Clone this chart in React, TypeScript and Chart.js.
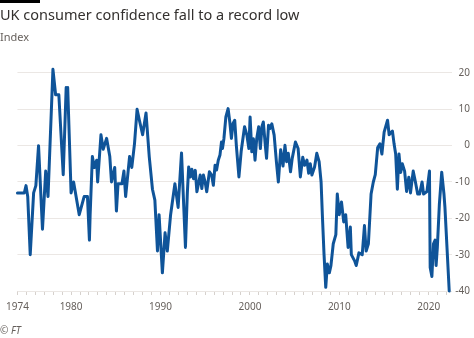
import React, { useEffect, useRef } from 'react';
import { Chart, registerables } from 'chart.js';

Chart.register(...registerables);

const title = 'UK consumer confidence fall to a record low';
const subtitle = 'Index';
const source = '© FT';

const years = [
  1974.0, 1974.77, 1974.96, 1975.15, 1975.43, 1975.81, 1976.06, 1976.36, 1976.8, 1977.16,
  1977.42, 1977.97, 1978.27, 1978.63, 1979.12, 1979.45, 1979.56, 1979.62, 1980.0, 1980.28,
  1980.91, 1981.46, 1981.83, 1982.05, 1982.13, 1982.38, 1982.6, 1982.86, 1982.97, 1983.34,
  1983.59, 1983.97, 1984.33, 1984.52, 1984.88, 1985.07, 1985.25, 1985.69, 1985.91, 1986.1,
  1986.54, 1986.79, 1987.09, 1987.38, 1987.64, 1988.0, 1988.38, 1988.74, 1989.1, 1989.37,
  1989.66, 1989.84, 1990.21, 1990.51, 1990.76, 1991.13, 1991.61, 1991.97, 1992.35, 1992.79,
  1993.0, 1993.15, 1993.34, 1993.51, 1993.7, 1993.89, 1994.07, 1994.44, 1994.62, 1994.8,
  1994.99, 1995.17, 1995.47, 1995.72, 1995.91, 1996.1, 1996.27, 1996.46, 1996.65, 1996.82,
  1996.93, 1997.09, 1997.31, 1997.56, 1997.75, 1997.93, 1998.11, 1998.3, 1998.48, 1998.77,
  1999.03, 1999.4, 1999.66, 1999.88, 2000.02, 2000.21, 2000.39, 2000.57, 2000.76, 2000.98,
  2001.17, 2001.34, 2001.5, 2001.72, 2001.86, 2002.08, 2002.23, 2002.45, 2002.71, 2002.96,
  2003.18, 2003.44, 2003.7, 2003.92, 2004.1, 2004.29, 2004.54, 2004.73, 2005.09, 2005.39,
  2005.64, 2005.91, 2006.13, 2006.38, 2006.57, 2006.75, 2006.93, 2007.23, 2007.48, 2007.74,
  2007.96, 2008.1, 2008.29, 2008.48, 2008.66, 2008.88, 2009.06, 2009.32, 2009.61, 2009.77,
  2009.99, 2010.24, 2010.49, 2010.71, 2010.98, 2011.23, 2011.34, 2011.71, 2011.89, 2012.19,
  2012.56, 2012.81, 2013.0, 2013.25, 2013.55, 2013.8, 2014.02, 2014.29, 2014.54, 2014.76,
  2015.01, 2015.39, 2015.57, 2015.94, 2016.12, 2016.3, 2016.49, 2016.67, 2016.86, 2017.04,
  2017.3, 2017.52, 2017.77, 2017.96, 2018.26, 2018.51, 2018.76, 2018.98, 2019.25, 2019.42,
  2019.8, 2020.08, 2020.16, 2020.35, 2020.53, 2020.71, 2020.82, 2020.96, 2021.19, 2021.45,
  2021.7, 2021.81, 2022.29,
];

const confidence = [
  -13, -13, -11, -14, -30, -13, -11, 0, -23, -7,
  -14, 21, 14, 14, -8, 16, 11, 16, -13, -10,
  -19, -14, -14, -26, -19, -3, -6, -4, -10, 3,
  -1, 2, -3, -10, -6, -18, -10.5, -10.5, -7, -14,
  -3, -6, 0.5, 10, 7, 3, 9, -3, -12, -15,
  -29, -19, -35, -24, -29, -19, -10.5, -17, -2, -28,
  -13, -5.9, -8.6, -6.5, -9.1, -6.8, -12.7, -8.1, -11.8, -8.1,
  -10, -12.7, -7.2, -8.1, -10.9, -5.4, -6.7, -4, -2.6, 1,
  -0.8, 1.9, 7.9, 10.2, 6.5, 2, 6.1, 7, 0.1, -8.6,
  -1.4, 5.2, 2.9, -0.8, 7.9, -1.7, 1.9, -4, 1.9, 5.2,
  -0.8, 5.2, 6.5, 0.1, -3.5, 5.6, 4.7, 6, 2.9, -4.4,
  -10, -1.1, -5.6, 0.1, -4.4, -2.1, -7.2, -3.5, 1, -0.8,
  -8.6, -3.2, -5.4, -4, -7.6, -5, -8.1, -5.9, -2.1, -4.4,
  -10, -19, -30, -39, -32.6, -35, -33, -27, -24.5, -13.3,
  -19, -15.5, -21, -19, -28, -22.4, -30, -31.7, -33, -29.5,
  -30, -22, -29, -27, -13.3, -10, -8, -0.5, 0.5, -2.3,
  3.7, 7, 3, 4, 0.5, -2.3, -12, -2.3, -7.4, -5,
  -7, -12.6, -8.7, -13, -7, -10, -13.3, -13.3, -10, -13.3,
  -12.6, -7, -33.5, -36, -27, -26, -33, -28, -16, -7.3,
  -13.3, -17, -40,
];

const yTickValues = [20, 10, 0, -10, -20, -30, -40];
const xLabelYears = [1974, 1980, 1990, 2000, 2010, 2020];
const firstYear = 1974;
const lastTickYear = 2022;

const FONT = '"Noto Sans", sans-serif';
const GREY = '#66605c';

export default function App() {
  const ref = useRef<HTMLCanvasElement>(null);

  useEffect(() => {
    document.body.style.margin = '0';
    const minorYears: number[] = [];
    for (let y = firstYear; y <= lastTickYear; y++) minorYears.push(y);

    const chart = new Chart(ref.current!, {
      type: 'line',
      data: {
        datasets: [
          {
            data: years.map((x, i) => ({ x, y: confidence[i] })),
            borderColor: '#0f5499',
            borderWidth: 3,
            pointRadius: 0,
            tension: 0,
            borderJoinStyle: 'round',
            borderCapStyle: 'round',
            clip: false as any,
          },
        ],
      },
      options: {
        animation: false,
        responsive: false,
        maintainAspectRatio: false,
        layout: { padding: { left: 11.3, right: 4, top: 54.8, bottom: 23 } },
        plugins: { legend: { display: false }, tooltip: { enabled: false } },
        scales: {
          x: {
            type: 'linear',
            min: 1974,
            max: 2022.6,
            afterBuildTicks: (s: any) => {
              s.ticks = minorYears.map((v) => ({ value: v }));
            },
            afterFit: (s: any) => {
              s.height = 24;
            },
            ticks: {
              autoSkip: false,
              maxRotation: 0,
              padding: 6,
              color: GREY,
              font: { family: FONT, size: 10 },
              callback: (v: any) => (xLabelYears.includes(Number(v)) ? String(v) : ''),
            },
            grid: { drawOnChartArea: false, tickLength: 4, color: '#d6d1cd' },
            border: { display: false },
          },
          y: {
            position: 'right',
            min: -40,
            max: 25,
            afterBuildTicks: (s: any) => {
              s.ticks = yTickValues.map((v) => ({ value: v }));
            },
            afterFit: (s: any) => {
              s.width = 18;
            },
            ticks: {
              crossAlign: 'far',
              padding: 0,
              color: GREY,
              font: { family: FONT, size: 10 },
            },
            grid: { color: '#ebe7e4', drawTicks: false },
            border: { display: false },
          },
        },
      },
    });
    return () => chart.destroy();
  }, []);

  return (
    <div style={{ position: 'relative', width: 474, height: 338, background: '#fff', overflow: 'hidden' }}>
      <canvas ref={ref} width={474} height={338} style={{ position: 'absolute', left: 0, top: 0, width: 474, height: 338 }} />
      <div style={{ position: 'absolute', left: 0, top: 0, width: 40, height: 3, background: '#000' }} />
      <div style={{ position: 'absolute', left: 0, top: 4, fontFamily: FONT, fontSize: 14.5, lineHeight: '20px', color: '#33302e', whiteSpace: 'nowrap' }}>
        {title}
      </div>
      <div style={{ position: 'absolute', left: 0, top: 29, fontFamily: FONT, fontSize: 11, lineHeight: '16px', color: GREY }}>
        {subtitle}
      </div>
      <div style={{ position: 'absolute', left: 0, top: 323, fontFamily: FONT, fontSize: 10, lineHeight: '14px', color: GREY, fontStyle: 'italic' }}>
        {source}
      </div>
    </div>
  );
}
